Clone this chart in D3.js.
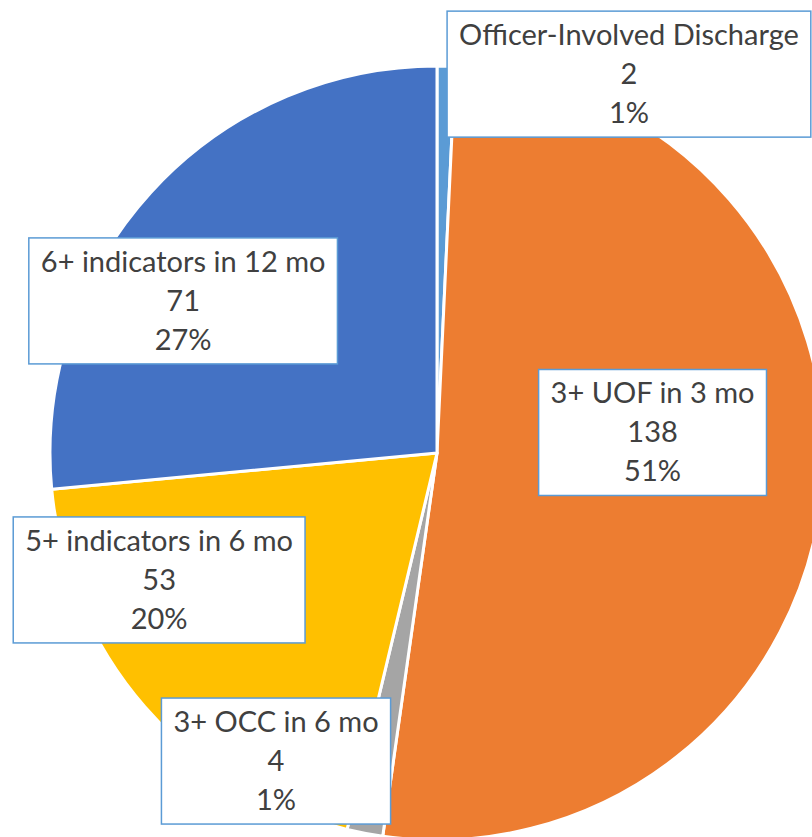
<!DOCTYPE html>
<html>
<head>
<meta charset="utf-8">
<script src="https://cdn.jsdelivr.net/npm/d3@7"></script>
<style>
  body { margin: 0; background: #fff; overflow: hidden; }
  svg { display: block; }
</style>
</head>
<body>
<svg id="chart" width="812" height="837"></svg>
<script>
// data
var categories = ["Officer-Involved Discharge", "3+ UOF in 3 mo", "3+ OCC in 6 mo", "5+ indicators in 6 mo", "6+ indicators in 12 mo"];
var counts = [2, 138, 4, 53, 71];
var pctLabels = ["1%", "51%", "1%", "20%", "27%"]; // as printed on the chart
var colors = ["#5B9BD5", "#ED7D31", "#A5A5A5", "#FFC000", "#4472C4"];

// label box centres, relative to pie centre, in radius units (moved by hand in the original)
var labelOffset = [[0.496, -0.979], [0.557, -0.053], [-0.416, 0.796], [-0.718, 0.328], [-0.656, -0.393]];

var svg = d3.select("#chart");
var cx = 437, cy = 453, radius = 387;

var data = categories.map(function (c, i) {
    return {name: c, value: counts[i], pct: pctLabels[i], color: colors[i], off: labelOffset[i]};
});

var pie = d3.pie()
    .value(function (d) { return d.value; })
    .sort(null);

var arc = d3.arc()
    .innerRadius(0)
    .outerRadius(radius);

var g = svg.append("g")
    .attr("transform", "translate(" + cx + "," + cy + ")");

g.selectAll("path.slice")
    .data(pie(data))
    .enter().append("path")
    .attr("class", "slice")
    .attr("d", arc)
    .attr("fill", function (d) { return d.data.color; })
    .attr("stroke", "#fff")
    .attr("stroke-width", 3)
    .attr("stroke-linejoin", "round");

var lineH = 39;

var labels = g.selectAll("g.label")
    .data(pie(data))
    .enter().append("g")
    .attr("class", "label")
    .attr("transform", function (d) {
        return "translate(" + (d.data.off[0] * radius) + "," + (d.data.off[1] * radius) + ")";
    });

var boxes = labels.append("rect")
    .attr("fill", "#fff")
    .attr("stroke", "#5B9BD5")
    .attr("stroke-width", 1.5);

var texts = labels.append("text")
    .attr("text-anchor", "middle")
    .attr("font-family", "Lato, 'Open Sans', sans-serif")
    .attr("font-size", 29)
    .attr("fill", "#404040");

texts.each(function (d) {
    var t = d3.select(this);
    var lines = [d.data.name, d.data.value, d.data.pct];
    lines.forEach(function (s, k) {
        t.append("tspan")
            .attr("x", 0)
            .attr("y", (k - 1) * lineH + 10)
            .text(s);
    });
});

boxes.each(function (d, i) {
    var bb = texts.nodes()[i].getBBox();
    var w = bb.width + 24, h = 126;
    d3.select(this)
        .attr("x", -w / 2)
        .attr("y", -h / 2)
        .attr("width", w)
        .attr("height", h);
});
</script>
</body>
</html>
